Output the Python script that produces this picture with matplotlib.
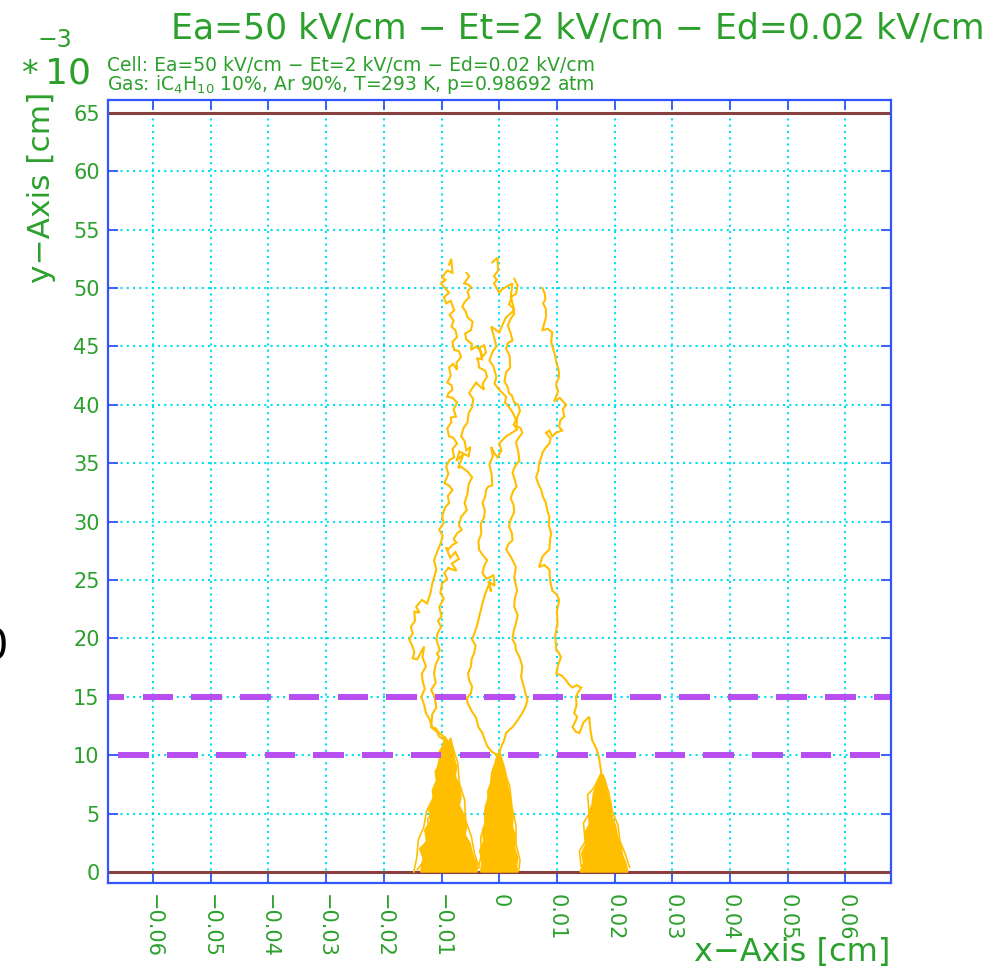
import numpy as np
import matplotlib
matplotlib.use("Agg")
import matplotlib.pyplot as plt

# ---------------- data ----------------
title = "Ea=50 kV/cm \u2212 Et=2 kV/cm \u2212 Ed=0.02 kV/cm"
cell_text = "Cell: Ea=50 kV/cm \u2212 Et=2 kV/cm \u2212 Ed=0.02 kV/cm"
gas_text = "Gas: iC$_4$H$_{10}$ 10%, Ar 90%, T=293 K, p=0.98692 atm"

x_ticks = [-0.06, -0.05, -0.04, -0.03, -0.02, -0.01, 0, 0.01, 0.02, 0.03, 0.04, 0.05, 0.06]
x_tick_labels = ["\u22120.06", "\u22120.05", "\u22120.04", "\u22120.03", "\u22120.02", "\u22120.01",
                 "0", "0.01", "0.02", "0.03", "0.04", "0.05", "0.06"]
y_ticks = [0, 5, 10, 15, 20, 25, 30, 35, 40, 45, 50, 55, 60, 65]

# electrode planes (y in 1e-3 cm)
plane_y = [0, 65]

# mesh wires: y position, offset in pitches, pitch (cm), wire width (cm)
mesh_rows = [15, 10]
mesh_shift = [0.0, 0.5]
mesh_pitch = 0.00845
mesh_width = 0.0053

# drift lines, (x in 1e-3 cm, y in 1e-3 cm)
track_1 = [(-8.7, 52.0), (-8.3, 52.5), (-8.1, 51.3), (-9.0, 51.5), (-9.9, 50.9), (-9.3, 50.7),
           (-10.1, 50.4), (-9.4, 50.0), (-8.7, 49.6), (-9.6, 49.2), (-9.2, 48.7), (-8.4, 48.9),
           (-7.8, 48.1), (-8.6, 47.7), (-7.9, 47.2), (-8.3, 46.7), (-7.6, 46.4), (-7.3, 45.8),
           (-8.1, 45.4), (-7.8, 44.7), (-7.0, 44.6), (-6.6, 44.1), (-7.4, 43.6), (-7.3, 43.0),
           (-8.0, 43.5), (-8.7, 43.2), (-8.4, 42.5), (-9.0, 41.9), (-8.3, 41.7), (-8.1, 41.3),
           (-8.8, 41.0), (-9.0, 40.7), (-8.1, 40.6), (-7.3, 40.2), (-7.9, 39.6), (-7.5, 39.0),
           (-8.4, 38.9), (-8.3, 38.5), (-9.0, 38.0), (-8.7, 37.3), (-8.0, 37.2), (-7.3, 36.7),
           (-8.1, 36.2), (-7.8, 35.5), (-8.6, 35.3), (-9.2, 34.7), (-8.8, 34.1), (-9.5, 33.3),
           (-8.7, 33.1), (-8.1, 32.7), (-8.9, 32.2), (-8.7, 31.6), (-9.4, 31.2), (-9.9, 30.4),
           (-9.6, 29.9), (-10.4, 29.3), (-9.8, 28.8), (-10.1, 28.2), (-10.6, 27.6), (-11.3, 26.7),
           (-10.9, 25.9), (-11.6, 24.7), (-11.9, 23.9), (-12.5, 23.0), (-13.4, 23.3), (-14.4, 22.7),
           (-13.8, 22.2), (-14.7, 22.3), (-14.6, 21.5), (-15.3, 21.0), (-15.0, 20.4), (-15.6, 19.9),
           (-15.1, 19.4), (-14.7, 18.8), (-15.0, 18.3), (-14.2, 18.2), (-13.5, 18.9), (-13.0, 19.3),
           (-13.3, 18.4), (-12.7, 17.6), (-13.4, 17.0), (-13.3, 16.4), (-12.9, 15.7), (-13.5, 15.0),
           (-13.0, 14.3), (-12.7, 13.6), (-12.1, 13.1), (-11.6, 12.4), (-11.0, 12.3), (-10.4, 11.9),
           (-9.8, 11.7), (-9.2, 11.3)]

track_2 = [(-5.7, 51.3), (-5.2, 51.0), (-6.1, 50.4), (-5.4, 50.3), (-4.9, 50.1), (-5.5, 49.7),
           (-5.2, 49.2), (-6.0, 48.8), (-6.4, 48.4), (-5.8, 48.0), (-5.5, 47.5), (-4.6, 47.1),
           (-4.9, 46.4), (-5.9, 46.1), (-5.7, 45.6), (-4.7, 45.2), (-4.9, 44.7), (-4.0, 45.0),
           (-3.2, 44.6), (-2.9, 44.1), (-2.3, 44.5), (-2.6, 45.1), (-3.4, 44.9), (-3.0, 43.9),
           (-3.9, 44.0), (-3.6, 43.7), (-3.5, 43.2), (-2.4, 42.9), (-2.1, 42.4),
           (-2.9, 41.8), (-2.6, 41.3), (-3.4, 41.6), (-4.0, 41.9), (-4.7, 41.4), (-5.2, 41.0),
           (-4.5, 40.5), (-4.7, 39.8), (-5.3, 39.3), (-5.5, 38.5), (-6.2, 38.0), (-6.6, 37.3),
           (-6.0, 36.9), (-5.7, 36.1), (-5.0, 36.4), (-5.3, 35.6), (-6.9, 36.0), (-7.4, 35.2),
           (-6.2, 35.8), (-6.4, 35.5), (-7.1, 34.6), (-6.6, 34.7), (-5.5, 34.3), (-4.7, 33.8),
           (-5.3, 33.2), (-5.5, 32.4), (-6.0, 31.6), (-5.6, 31.0), (-6.6, 30.4), (-7.0, 29.7),
           (-6.5, 29.3), (-7.3, 29.0), (-7.9, 28.5), (-7.4, 28.2), (-8.1, 28.0), (-8.9, 27.6),
           (-9.2, 27.8), (-8.5, 26.9), (-7.6, 27.4), (-7.0, 26.8), (-8.2, 26.4), (-7.4, 25.8),
           (-8.8, 26.0), (-8.7, 26.1), (-9.5, 25.6), (-9.0, 25.1),
           (-9.9, 24.7), (-10.2, 23.9), (-9.6, 23.4), (-10.4, 22.7), (-10.0, 21.9), (-10.6, 21.5),
           (-10.1, 21.0), (-10.7, 20.4), (-10.9, 19.9), (-10.3, 19.0), (-10.8, 18.7), (-10.4, 18.4),
           (-11.0, 17.8), (-11.3, 17.0), (-11.0, 16.2), (-11.8, 15.6), (-11.2, 15.0), (-10.9, 14.1),
           (-11.6, 13.5), (-11.8, 12.4), (-10.8, 12.0), (-10.4, 11.6), (-9.4, 11.3), (-8.7, 10.7)]

track_3 = [(-1.2, 52.2), (-0.3, 52.6), (-0.2, 51.5), (-0.9, 51.0), (-0.4, 50.7), (-0.9, 50.4),
           (0.0, 49.6), (0.5, 49.9), (1.6, 50.2), (2.3, 50.4), (2.0, 49.3), (2.6, 48.1),
           (1.9, 47.8), (1.2, 47.5), (0.6, 46.9), (0.0, 46.2), (-0.8, 46.5), (-1.4, 46.7),
           (-0.9, 45.8), (-0.5, 45.0), (-1.2, 44.5), (-1.7, 43.8), (-1.0, 43.3), (-0.5, 42.4),
           (-0.8, 41.8), (0.0, 41.3), (0.6, 41.0), (1.2, 40.7), (1.0, 40.2), (1.7, 39.8),
           (2.4, 39.3), (2.9, 38.7), (2.5, 38.3), (3.1, 37.9), (2.2, 37.6), (1.2, 37.3),
           (0.6, 37.0), (0.0, 36.7), (0.4, 36.1), (-0.3, 35.5), (-0.9, 35.9), (-1.4, 36.4),
           (-1.1, 35.6), (-1.7, 34.9), (-1.3, 34.0), (-1.2, 33.1), (-1.9, 33.0), (-2.3, 32.7),
           (-2.4, 32.2), (-2.9, 31.6), (-2.5, 31.0), (-2.6, 30.4), (-3.2, 29.8), (-3.1, 29.0),
           (-3.6, 28.3), (-3.5, 27.6), (-2.8, 27.1), (-2.1, 26.7), (-2.6, 26.2), (-2.9, 25.6),
           (-2.2, 25.1), (-1.0, 25.4), (-0.8, 24.5), (-1.9, 24.9), (-1.4, 24.0),
           (-1.7, 24.7), (-2.3, 24.0), (-2.8, 23.2), (-3.5, 21.8), (-3.9, 21.0),
           (-4.7, 19.9), (-4.1, 19.4), (-4.3, 18.8), (-4.8, 18.2), (-4.9, 17.6), (-5.4, 17.0),
           (-5.2, 16.4), (-4.7, 15.9), (-4.9, 15.3), (-5.6, 14.9), (-5.5, 14.5), (-4.8, 13.8),
           (-4.0, 13.2), (-3.6, 12.4), (-2.9, 11.9), (-2.5, 11.3), (-2.1, 10.8), (-1.3, 10.3),
           (-0.3, 10.0)]

track_4 = [(2.6, 50.8), (3.2, 50.2), (2.9, 49.5), (2.2, 49.3), (1.7, 48.6), (2.4, 48.3),
           (2.6, 47.8), (1.9, 47.3), (1.5, 46.8), (2.0, 46.1), (2.3, 45.5), (1.5, 45.3),
           (1.2, 44.8), (1.8, 44.2), (1.9, 43.2), (1.2, 42.8), (0.9, 42.0), (1.4, 41.6),
           (1.7, 41.0), (2.2, 40.8), (2.6, 40.2), (3.3, 40.0), (3.6, 39.5), (3.1, 38.9),
           (3.0, 38.2), (3.7, 38.0), (4.0, 37.6), (3.4, 37.2), (2.9, 36.8), (3.3, 36.0),
           (3.5, 35.2), (2.8, 34.8), (2.3, 34.2), (2.7, 33.6), (3.0, 33.0), (2.4, 32.6),
           (2.0, 32.0), (2.5, 31.4), (2.6, 30.8), (2.0, 30.2), (1.7, 29.6), (2.2, 29.0),
           (2.3, 28.4), (1.6, 28.1), (1.2, 27.6), (2.0, 27.0), (2.9, 26.1), (2.6, 25.2),
           (3.1, 24.1), (2.7, 23.4), (2.6, 22.7), (3.2, 22.0), (2.9, 21.3), (2.5, 20.6),
           (2.3, 19.9), (2.8, 19.5), (2.9, 19.0), (3.6, 18.3), (4.0, 17.6), (3.8, 16.7),
           (4.3, 15.8), (4.6, 15.2), (4.9, 14.7), (4.5, 14.1), (4.0, 13.6), (3.2, 13.0),
           (2.3, 12.4), (1.8, 12.2), (1.2, 11.9), (0.8, 11.2), (0.3, 10.7), (0.0, 10.2)]

track_5 = [(7.5, 50.0), (7.9, 49.5), (8.0, 49.0), (7.6, 48.7), (8.1, 48.2), (8.1, 47.5),
           (7.5, 46.4), (8.4, 46.5), (9.2, 46.2), (9.0, 45.4), (9.4, 44.7), (9.7, 44.2),
           (9.9, 43.6), (10.3, 43.0), (10.4, 42.4), (9.9, 41.9), (9.9, 41.5), (10.2, 41.2),
           (10.1, 41.0), (9.5, 40.3), (10.5, 40.6), (11.6, 40.0), (11.0, 39.6), (11.3, 39.0),
           (10.6, 38.7), (10.4, 38.1), (10.9, 37.8), (9.8, 37.6), (9.2, 37.3), (8.7, 37.8),
           (8.1, 37.6), (8.9, 37.1), (8.7, 36.7), (8.0, 36.3), (7.5, 35.9), (7.2, 35.4),
           (6.9, 35.0), (6.8, 34.4), (6.4, 33.8), (6.8, 33.2), (7.3, 32.7), (7.6, 32.1),
           (8.1, 31.6), (8.3, 31.0), (8.7, 30.4), (8.6, 29.7), (9.0, 29.0), (8.8, 28.4),
           (8.7, 27.6), (8.0, 27.3), (7.5, 27.0), (6.9, 26.1), (7.8, 26.3), (8.7, 25.9),
           (8.8, 25.0), (9.2, 24.1), (9.9, 23.8), (10.4, 23.3), (10.0, 22.3), (10.1, 21.3),
           (9.7, 20.2), (9.9, 19.0), (10.3, 18.8), (10.7, 18.4), (10.2, 17.7), (9.9, 17.0),
           (10.9, 16.8), (11.6, 16.4), (12.2, 16.0), (12.7, 15.8), (13.4, 16.0), (14.2, 15.8),
           (13.7, 15.4), (13.3, 15.0), (13.4, 14.3), (13.0, 13.6), (13.5, 13.3), (13.3, 13.0),
           (12.7, 12.4), (13.3, 12.0), (13.9, 11.9), (14.6, 12.8), (15.6, 13.3), (15.8, 12.2),
           (16.1, 11.3), (16.9, 10.5), (17.3, 9.8), (17.5, 9.1), (17.7, 8.5)]

# avalanche envelopes near the anode (x in 1e-3 cm, y in 1e-3 cm)
cone_left = [(-13.6, 0.0), (-13.2, 1.2), (-13.8, 2.0), (-12.6, 2.6), (-12.9, 3.6), (-11.9, 4.4),
             (-12.2, 5.4), (-11.4, 6.2), (-11.6, 7.0), (-10.9, 7.8), (-11.1, 8.6), (-10.3, 9.4),
             (-10.5, 10.2), (-9.8, 10.8), (-9.4, 11.6), (-8.8, 11.1), (-8.4, 11.5), (-8.0, 10.6),
             (-7.8, 9.8), (-7.4, 9.0), (-7.6, 8.2), (-6.9, 7.4), (-6.6, 6.5), (-6.9, 5.7),
             (-6.1, 4.9), (-5.6, 4.0), (-5.9, 3.2), (-5.0, 2.4), (-4.6, 1.5), (-4.0, 0.8),
             (-3.8, 0.0)]
cone_mid = [(-3.2, 0.0), (-3.0, 1.0), (-3.4, 1.8), (-2.7, 2.6), (-2.9, 3.6), (-2.3, 4.4),
            (-2.5, 5.2), (-1.9, 6.0), (-2.0, 6.9), (-1.5, 7.6), (-1.3, 8.5), (-0.8, 9.2),
            (-0.4, 10.0), (0.1, 10.3), (0.5, 9.6), (0.9, 9.0), (1.3, 8.1), (1.5, 7.3),
            (1.9, 6.5), (2.0, 5.6), (2.4, 4.8), (2.3, 3.9), (2.8, 3.0), (2.7, 2.0),
            (3.2, 1.2), (3.0, 0.4), (3.3, 0.0)]
cone_right = [(14.0, 0.0), (14.6, 0.8), (14.3, 1.6), (15.0, 2.4), (14.8, 3.3), (15.6, 4.1),
              (15.5, 5.0), (16.1, 5.8), (16.3, 6.7), (16.8, 7.4), (17.2, 8.0), (17.7, 8.4),
              (18.3, 8.0), (18.6, 7.2), (18.9, 6.4), (19.4, 5.6), (19.6, 4.7), (20.2, 3.9),
              (20.5, 3.0), (21.1, 2.2), (21.4, 1.4), (22.0, 0.7), (22.3, 0.0)]

# stray avalanche lines around the envelopes
stray_1 = [(-9.6, 11.0), (-10.6, 9.2), (-10.2, 8.0), (-11.4, 6.8), (-11.0, 5.6), (-12.4, 4.5),
           (-12.0, 3.0), (-13.2, 2.2), (-13.0, 1.0), (-14.2, 0.2)]
stray_2 = [(-11.2, 6.6), (-12.6, 5.2), (-13.1, 3.8), (-14.0, 2.8), (-14.3, 1.2), (-14.8, 0.0)]
stray_3 = [(-8.4, 11.2), (-7.2, 9.4), (-6.9, 7.6), (-6.0, 6.2), (-5.8, 4.4), (-4.8, 3.0),
           (-4.3, 1.6), (-3.5, 0.4)]
stray_4 = [(0.0, 10.2), (-1.2, 8.6), (-1.5, 7.0), (-2.4, 5.6), (-2.5, 4.0), (-3.2, 3.0),
           (-3.1, 1.4), (-3.7, 0.3)]
stray_5 = [(0.2, 10.0), (1.0, 8.4), (1.8, 7.4), (2.2, 5.6), (2.9, 4.0), (2.9, 2.4),
           (3.6, 1.0), (3.4, 0.2)]
stray_6 = [(17.6, 8.4), (16.4, 7.2), (15.3, 6.6), (15.6, 5.0), (14.6, 4.2), (14.9, 2.6),
           (13.9, 1.8), (14.2, 0.5)]
stray_7 = [(18.0, 8.3), (19.0, 6.8), (19.6, 5.2), (20.6, 4.0), (20.9, 2.7), (21.8, 1.6),
           (22.6, 0.4)]

tracks = [track_1, track_2, track_3, track_4, track_5]
cones = [cone_left, cone_mid, cone_right]
strays = [stray_1, stray_2, stray_3, stray_4, stray_5, stray_6, stray_7]

# ---------------- style ----------------
GREEN = "#2ca02c"
BLUE = "#3355ff"
CYAN = "#00e0f0"
AMBER = "#ffbf00"
VIOLET = "#b84ef2"
BROWN = "#8a4040"

plt.rcParams["font.family"] = ["DejaVu Sans"]

W, H = 1001, 969
fig = plt.figure(figsize=(W / 100, H / 100), dpi=100)
ax = fig.add_axes([108 / W, 1 - 883 / H, (891 - 108) / W, (883 - 100) / H])
ax.set_xlim(-0.0678, 0.0679)
ax.set_ylim(-0.94, 66.1)

# grid
ax.set_xticks(x_ticks)
ax.set_xticklabels(x_tick_labels, rotation=-90, va="top", ha="center")
ax.set_yticks(y_ticks)
ax.set_yticklabels([str(v) for v in y_ticks])
ax.set_axisbelow(True)
ax.grid(True, color=CYAN, linestyle=(0, (1, 2.0)), linewidth=1.5)

ax.tick_params(axis="both", direction="in", length=7, width=1.3, color=BLUE,
               top=True, right=True, labelcolor=GREEN, labelsize=15)
ax.tick_params(axis="x", pad=8)
ax.tick_params(axis="y", pad=6)
for s in ax.spines.values():
    s.set_color(BLUE)
    s.set_linewidth(1.6)
    s.set_zorder(6)

# electrode planes
for yp in plane_y:
    ax.axhline(yp, color=BROWN, linewidth=2.2, zorder=2)

# avalanches
for c in cones:
    cx = np.array([p[0] for p in c]) * 1e-3
    cy = [p[1] for p in c]
    ax.fill(cx, cy, color=AMBER, linewidth=1.0, zorder=3)
for s in strays:
    ax.plot(np.array([p[0] for p in s]) * 1e-3, [p[1] for p in s],
            color=AMBER, linewidth=1.2, zorder=3)

# drift lines
for t in tracks:
    ax.plot(np.array([p[0] for p in t]) * 1e-3, [p[1] for p in t],
            color=AMBER, linewidth=1.5, zorder=3, solid_joinstyle="miter")

# mesh wires
for yrow, shift in zip(mesh_rows, mesh_shift):
    for k in range(-9, 10):
        c = (k + shift) * mesh_pitch
        ax.plot([c - mesh_width / 2, c + mesh_width / 2], [yrow, yrow],
                color=VIOLET, linewidth=4.3, solid_capstyle="butt", zorder=4)

# ---------------- text ----------------
fig.text(985 / W, 1 - 38 / H, title, ha="right", va="baseline", color=GREEN, fontsize=25)
fig.text(38 / W, 1 - 47 / H, "\u22123", ha="left", va="baseline", color=GREEN, fontsize=17)
fig.text(21 / W, 1 - 84 / H, "*", ha="left", va="baseline", color=GREEN, fontsize=24)
fig.text(45 / W, 1 - 84 / H, "10", ha="left", va="baseline", color=GREEN, fontsize=26)
fig.text(107 / W, 1 - 71 / H, cell_text, ha="left", va="baseline", color=GREEN, fontsize=13.5)
fig.text(107 / W, 1 - 90 / H, gas_text, ha="left", va="baseline", color=GREEN, fontsize=13.5)
fig.text(42 / W, 1 - 92 / H, "y\u2212Axis [cm]", rotation=90, ha="center", va="top",
         color=GREEN, fontsize=22.5)
fig.text(890 / W, 1 - 961 / H, "x\u2212Axis [cm]", ha="right", va="baseline",
         color=GREEN, fontsize=23)
fig.text(8 / W, 1 - 647 / H, "0", ha="right", va="center", color="black", fontsize=30)

fig.savefig("out.png", dpi=100)
